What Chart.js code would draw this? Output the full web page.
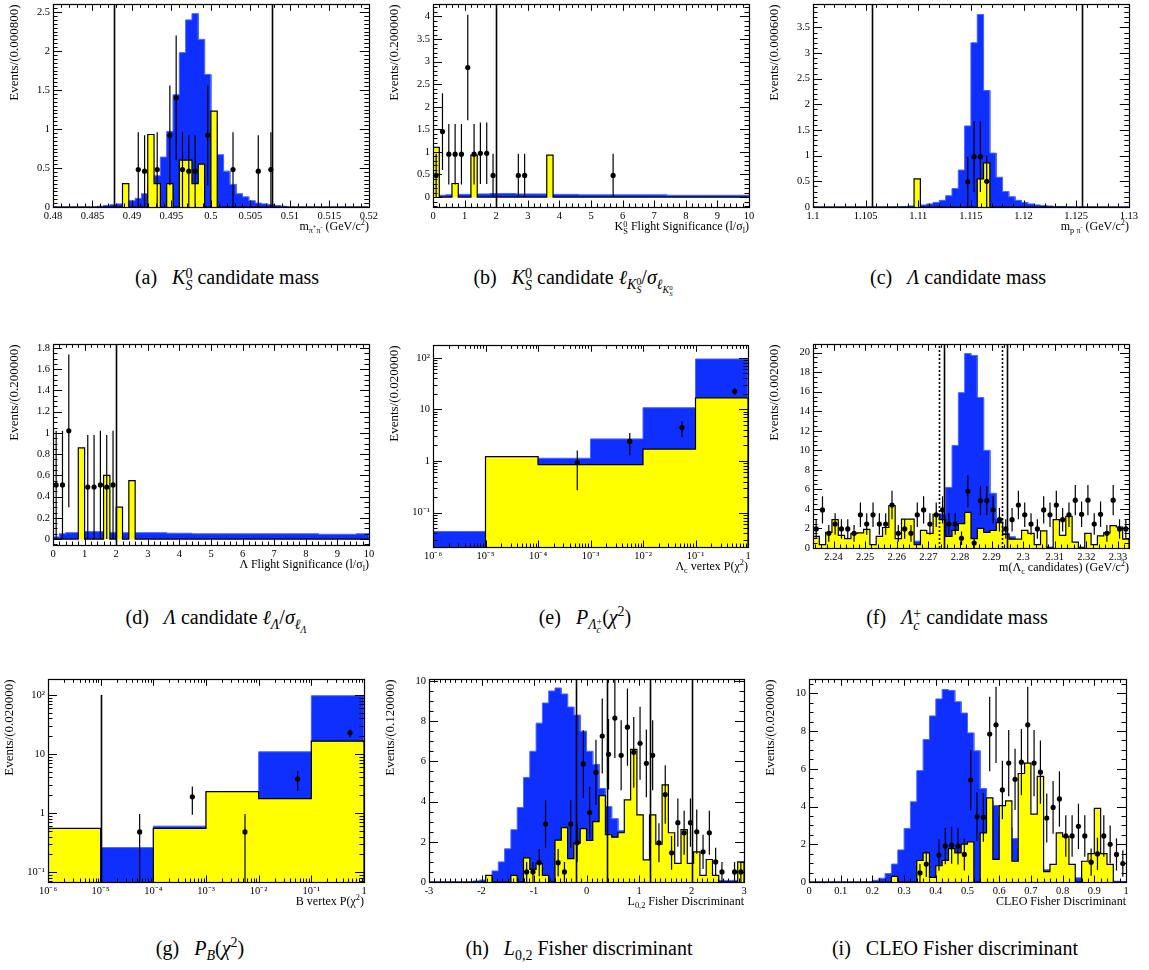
<!DOCTYPE html>
<html>
<head>
<meta charset="utf-8">
<script src="https://cdn.jsdelivr.net/npm/chart.js@4.4.1/dist/chart.umd.min.js"></script>
<style>
body { margin: 0; background: #fff; }
#fig { position: relative; width: 1149px; height: 970px; overflow: hidden; font-family: "Liberation Serif", "Times New Roman", serif; color: #000; }
canvas { position: absolute; }
.xt { position: absolute; font-size: 12px; line-height: 14px; white-space: nowrap; text-align: right; width: 320px; }
.cap { position: absolute; font-size: 20px; line-height: 24px; white-space: nowrap; transform: translateX(-50%); }
sub, sup { font-size: 0.7em; line-height: 0; }
.ss { display: inline-block; vertical-align: -0.45em; line-height: 0.85; font-size: 0.7em; text-align: left; }
.ss > span { display: block; }
</style>
</head>
<body>
<div id="fig"></div>
<script>
// ---------------- data ----------------

// (a) K0S candidate mass, 50 bins of 0.0008 from 0.48
const aBinLo = 0.48, aBinW = 0.0008;
const aBlue = [0,0,0,0,0,0,0, 0.01,0.02,0.03,0.04,0.05,0.08,0.11,0.17,0.27,0.4,
  0.64,0.97,1.44,1.98,2.4,2.48,2.15,1.7,1.1,0.67,
  0.46,0.29,0.17,0.13,0.08,0.05,0.04,0.03,0.02,0.01,
  0,0,0,0,0,0,0,0,0,0,0,0,0];
const aYellow = [0,0,0,0,0,0,0,0,0,0, 0,0.3,0,0,0,0.93,0.3,0,0.3,0,
  0.6,0.6,0.3,0.55,0,1.23,0,0,0,0, 0,0,0,0,0,0,0,0,0,0, 0,0,0,0,0,0,0,0,0,0];
const aPtBins = [13,14,16,18,19,20,21,22,24,28,32,34];
const aPtVals = [0.48,0.46,0.48,0.92,1.40,0.48,0.46,0.46,0.92,0.48,0.46,0.48];
const aPtErrs = [0.48,0.46,0.48,0.64,0.80,0.48,0.46,0.46,0.64,0.48,0.46,0.48];
const aCuts = [0.4877, 0.5077];
const aXTicks = [0.48,0.485,0.49,0.495,0.5,0.505,0.51,0.515,0.52];
const aYTicks = [0,0.5,1,1.5,2,2.5];

// (b) K0S flight significance, 50 bins of 0.2 from 0
const bBinLo = 0, bBinW = 0.2;
const bBlue = [0.03,0.04,0.05,0.05,0.06,0.06,0.07,0.07,0.07,0.08,
  0.08,0.08,0.08,0.07,0.07,0.07,0.07,0.07,0.06,0.06,
  0.06,0.06,0.06,0.05,0.05,0.05,0.05,0.05,0.05,0.05,
  0.05,0.05,0.05,0.05,0.05,0.05,0.05,0.04,0.04,0.04,
  0.04,0.04,0.04,0.04,0.04,0.04,0.04,0.04,0.04,0.04];
const bYellow = [1.1,0,0,0.3,0,0,0.93,0,0,0, 0,0,0,0,0,0,0,0,0.93,0,
  0,0,0,0,0,0,0,0,0,0, 0,0,0,0,0,0,0,0,0,0, 0,0,0,0,0,0,0,0,0,0];
const bPtBins = [0,1,2,3,4,5,6,7,8,9,13,14,28];
const bPtVals = [0.48,1.45,0.95,0.95,0.95,2.87,0.95,0.97,0.97,0.48,0.48,0.48,0.48];
const bPtErrs = [0.48,0.85,0.67,0.67,0.67,1.17,0.67,0.68,0.68,0.48,0.48,0.48,0.48];
const bCuts = [2];
const bXTicks = [0,1,2,3,4,5,6,7,8,9,10];
const bYTicks = [0,0.5,1,1.5,2,2.5,3,3.5,4];

// (c) Lambda candidate mass, 50 bins of 0.0006 from 1.1
const cBinLo = 1.1, cBinW = 0.0006;
const cBlue = [0,0,0,0,0,0,0,0,0,0, 0,0,0,0.005,0.01,0.02,0.03,0.04,0.06,0.09,
  0.13,0.22,0.36,0.72,1.58,3.2,3.75,2.27,1.05,0.58,
  0.3,0.2,0.13,0.09,0.06,0.04,0.03,0.02,0.01,0.01,
  0,0,0,0,0,0,0,0,0,0];
const cYellow = [0,0,0,0,0,0,0,0,0,0, 0,0,0,0,0,0,0.55,0,0,0,
  0,0,0,0,0,0,0.55,0.86,0,0, 0,0,0,0,0,0,0,0,0,0, 0,0,0,0,0,0,0,0,0,0];
const cPtBins = [24,25,26,27];
const cPtVals = [0.49,0.98,0.98,0.5];
const cPtErrs = [0.49,0.69,0.69,0.5];
const cCuts = [1.1056, 1.1256];
const cXTicks = [1.1,1.105,1.11,1.115,1.12,1.125,1.13];
const cYTicks = [0,0.5,1,1.5,2,2.5,3,3.5];

// (d) Lambda flight significance, 50 bins of 0.2 from 0
const dBinLo = 0, dBinW = 0.2;
const dBlue = [0.02,0.05,0.06,0.06,0.06,0.07,0.07,0.07,0.07,0.06,
  0.06,0.06,0.06,0.06,0.06,0.06,0.06,0.06,0.055,0.055,
  0.055,0.055,0.05,0.05,0.05,0.05,0.05,0.05,0.05,0.05,
  0.05,0.05,0.05,0.05,0.05,0.05,0.05,0.05,0.05,0.05,
  0.05,0.05,0.045,0.045,0.045,0.045,0.045,0.045,0.05,0.05];
const dYellow = [0,0,0,0,0.86,0,0,0,0.6,0, 0.3,0,0.55,0,0,0,0,0,0,0,
  0,0,0,0,0,0,0,0,0,0, 0,0,0,0,0,0,0,0,0,0, 0,0,0,0,0,0,0,0,0,0];
const dPtBins = [0,1,2,5,6,7,8,9];
const dPtVals = [0.51,0.51,1.02,0.49,0.49,0.51,0.49,0.51];
const dPtErrs = [0.51,0.51,0.72,0.49,0.49,0.51,0.49,0.51];
const dCuts = [2];
const dXTicks = [0,1,2,3,4,5,6,7,8,9,10];
const dYTicks = [0,0.2,0.4,0.6,0.8,1,1.2,1.4,1.6,1.8];

// (e) Lambda_c vertex probability, one bin per decade
const eEdges = [1e-6,1e-5,1e-4,1e-3,1e-2,1e-1,1];
const eBlue = [0.043,1.22,1.13,2.68,10.8,95];
const eYellow = [0,1.22,0.85,0.85,1.7,16.8];
const ePtX = [5.6e-4,5.6e-3,0.0553,0.557];
const ePtVals = [0.93,2.39,4.44,22.5];
const ePtErrs = [0.66,1.1,1.55,3.3];
const eXTicks = [1e-6,1e-5,1e-4,1e-3,1e-2,1e-1,1];
const eYTicks = [0.1,1,10,100];

// (f) Lambda_c+ candidate mass, 50 bins of 0.002 from 2.2335
const fBinLo = 2.2335, fBinW = 0.002;
const fBlue = [0.1,0.1,0.1,0.1,0.1,0.1,0.15,0.15,0.15,0.2,
  0.2,0.2,0.25,0.3,0.35,0.45,0.7,0.9,1.2,1.8,
  3.5,6.2,10.5,15.9,19.9,19.7,15.4,10.0,5.6,3.0,
  1.5,1.15,0.5,0.4,0.3,0.25,0.2,0.1,0.1,0.1,
  0.1,0.1,0.1,0.05,0.05,0.05,0.05,0.05,0.05,0.05];
const fYellow = [1.2,0.35,1.6,2.9,1.3,0.95,1.5,1.55,1.9,0.35,
  1.2,2.1,4.35,0.95,2.95,2.95,0.35,1.8,1.5,3.45,
  2.9,1.2,1.8,2.5,3.65,0.95,2.0,1.6,1.8,2.6,
  1.4,0.9,0.9,1.8,1.5,0.35,1.75,0,2.9,1.3,
  3.25,0.6,0,1.5,0.35,1.25,1.55,2.3,2.15,0.9];
const fPtBins = [0,1,2,3,4,5,6,7,8,9,10,11,12,13,14,15,16,17,18,19,20,21,22,23,24,
  25,26,27,28,29,30,31,32,33,34,35,36,37,38,39,40,41,42,43,44,45,46,47,48,49];
const fPtVals = [1.95,3.9,1.5,2.45,1.95,1.95,1.5,3.4,2.45,3.4,
  2.45,2.45,4.4,1.5,1.95,1.5,3.4,3.9,2.45,3.4,
  3.9,2.45,2.45,1.0,5.8,0.5,4.85,4.85,3.9,2.9,
  1.95,2.9,4.4,3.4,2.45,1.95,3.9,3.4,4.4,2.9,
  3.4,4.9,3.45,4.9,2.45,3.45,1.5,4.9,1.95,1.95];
const fPtErrs = [1.0,1.4,0.85,1.1,1.0,1.0,0.85,1.25,1.1,1.25,
  1.1,1.1,1.45,0.85,1.0,0.85,1.25,1.4,1.1,1.25,
  1.4,1.1,1.1,0.7,1.65,0.5,1.5,1.5,1.4,1.2,
  1.0,1.2,1.45,1.25,1.1,1.0,1.4,1.25,1.45,1.2,
  1.25,1.55,1.3,1.55,1.1,1.3,0.85,1.55,1.0,1.0];
const fCuts = [2.275, 2.295];
const fDotCuts = [2.2733, 2.2934];
const fXTicks = [2.24,2.25,2.26,2.27,2.28,2.29,2.3,2.31,2.32,2.33];
const fYTicks = [0,2,4,6,8,10,12,14,16,18,20];

// (g) B vertex probability, one bin per decade
const gEdges = [1e-6,1e-5,1e-4,1e-3,1e-2,1e-1,1];
const gBlue = [0.5,0.26,0.6,2.3,10.9,97];
const gYellow = [0.55,0,0.55,2.3,1.76,16.5];
const gPtX = [5.5e-5,5.5e-4,5.5e-3,0.055,0.543];
const gPtVals = [0.48,1.88,0.48,3.76,22.8];
const gPtErrs = [0.48,0.94,0.48,1.4,3.4];
const gCuts = [1e-5];
const gCutTop = 100;
const gXTicks = [1e-6,1e-5,1e-4,1e-3,1e-2,1e-1,1];
const gYTicks = [0.1,1,10,100];

// (h) L0,2 Fisher discriminant, 50 bins of 0.12 from -3
const hBinLo = -3, hBinW = 0.12;
const hBlue = [0,0,0,0,0,0,0,0.05,0.1,0.3,
  0.55,1.0,1.65,2.6,3.7,5.2,6.5,7.9,8.9,9.5,
  9.65,9.35,8.7,8.3,7.5,6.5,5.85,4.65,3.75,3.15,
  2.55,2.0,1.6,1.2,0.9,0.7,0.5,0.35,0.25,0.18,
  0.12,0.1,0.07,0.12,0.08,0.08,0.08,0.08,0.08,0.02];
const hYellow = [0,0,0,0,0,0,0,0,0,0.33,
  0,0,0,0.33,0,1.2,0.63,0.93,0.33,0,
  2.08,2.7,1.16,1.93,2.65,2.07,3.0,4.3,2.35,2.23,
  2.45,4.08,6.6,3.34,1.1,3.34,1.88,4.83,2.45,0.93,
  2.6,0.93,1.5,0.33,1.12,0.33,0,0,0,1.0];
const hPtBins = [15,16,17,18,20,21,22,23,24,25,26,27,28,29,30,31,32,33,34,35,
  36,37,38,39,40,41,42,43,44,45,46,48,49];
const hPtVals = [0.5,0.5,0.96,2.88,0.96,0.5,2.88,1.95,5.87,3.45,
  5.45,7.26,6.35,8.15,6.3,7.7,6.45,6.9,5.9,6.3,
  1.95,4.35,1.45,2.95,2.45,2.95,2.5,1.5,2.45,1.0,0.5,0.5,0.5];
const hPtErrs = [0.5,0.5,0.68,1.18,0.68,0.5,1.18,0.97,1.68,1.29,
  1.62,1.87,1.75,1.98,1.74,1.92,1.76,1.82,1.68,1.74,
  0.97,1.45,0.84,1.2,1.09,1.2,1.1,0.85,1.09,0.7,0.5,0.5,0.5];
const hCuts = [-0.2, 0.39, 1.2, 2.0];
const hXTicks = [-3,-2,-1,0,1,2,3];
const hYTicks = [0,2,4,6,8,10];

// (i) CLEO Fisher discriminant, 50 bins of 0.02 from 0
const iBinLo = 0, iBinW = 0.02;
const iBlue = [0,0,0,0,0,0,0,0,0,0,
  0.09,0.2,0.45,0.95,1.7,2.84,4.25,5.9,7.55,8.8,
  9.7,10.2,10.15,9.55,8.95,7.9,6.95,4.95,4.3,4.05,
  3.5,2.9,2.3,1.8,1.4,1.0,0.8,0.65,0.45,0.35,
  0.3,0.25,0.22,0.15,0.12,0.1,0.08,0.06,0.04,0.02];
const iYellow = [0,0,0,0,0,0,0,0,0,0,
  0,0,0,0.3,0,0,0,1.14,1.54,0.25,
  0.86,1.14,1.77,1.54,2.0,2.12,0,2.6,4.46,1.2,
  4.05,4.3,1.1,5.75,6.3,3.6,5.6,0.55,0.93,2.6,
  2.4,0.93,0,1.1,1.5,3.9,1.5,0.93,0,0];
const iPtBins = [17,18,20,21,22,23,24,25,26,27,28,29,30,31,32,33,34,35,36,37,
  38,39,40,41,42,43,44,45,46,47,48,49];
const iPtVals = [0.48,0.95,1.43,1.91,1.95,1.9,1.46,5.4,3.46,3.43,
  7.84,8.33,4.88,6.3,5.44,6.35,8.33,6.3,5.82,3.39,
  3.95,4.4,2.44,2.44,2.95,2.44,1.05,1.49,2.44,2.0,1.46,0.98];
const iPtErrs = [0.48,0.68,0.83,0.97,0.98,0.97,0.85,1.6,1.3,1.3,
  1.97,2.02,1.55,1.75,1.62,1.76,2.02,1.75,1.68,1.3,
  1.4,1.47,1.1,1.1,1.2,1.1,0.72,0.86,1.1,1.0,0.85,0.7];
const iXTicks = [0,0.1,0.2,0.3,0.4,0.5,0.6,0.7,0.8,0.9,1];
const iYTicks = [0,2,4,6,8,10];

// ---------------- helpers ----------------

Chart.defaults.font.family = "'Liberation Serif', 'Times New Roman', serif";
Chart.defaults.font.size = 10.5;
Chart.defaults.color = '#000';

function binEdges(lo, w, n) {
    const e = [];
    for (let i = 0; i <= n; i++) e.push(lo + i * w);
    return e;
}

// histogram outline: corner points of every bin
function histPoints(edges, vals, floor) {
    const f = v => (v > 0 ? v : floor);
    const pts = [{ x: edges[0], y: floor }];
    vals.forEach((v, i) => {
        pts.push({ x: edges[i], y: f(v) });
        pts.push({ x: edges[i + 1], y: f(v) });
    });
    pts.push({ x: edges[edges.length - 1], y: floor });
    return pts;
}

function binCentres(edges, bins) {
    return bins.map(b => (edges[b] + edges[b + 1]) / 2);
}

const SUP = { '-': '\u207B', '0': '\u2070', '1': '\u00B9', '2': '\u00B2', '3': '\u00B3',
    '4': '\u2074', '5': '\u2075', '6': '\u2076', '7': '\u2077', '8': '\u2078', '9': '\u2079' };

function fmtTick(v, log) {
    if (!log) return String(Math.round(v * 1e6) / 1e6);
    const e = Math.round(Math.log10(v));
    if (e === 0) return '1';
    if (e === 1) return '10';
    return '10' + String(e).split('').map(c => SUP[c]).join('');
}

// ROOT style frame with inward ticks on all four sides
const framePlugin = {
    id: 'frame',
    afterDraw(chart) {
        const o = chart.options.plugins.frame || {};
        const { ctx, chartArea: a } = chart;
        const xs = chart.scales.x, ys = chart.scales.y;
        ctx.save();
        ctx.strokeStyle = '#000';
        ctx.lineWidth = 1;
        const seg = (x1, y1, x2, y2) => {
            ctx.beginPath(); ctx.moveTo(x1, y1); ctx.lineTo(x2, y2); ctx.stroke();
        };
        const minorsOf = (scale, n) => {
            const major = scale.ticks.map(t => t.value);
            const out = [];
            if (scale.type === 'logarithmic') {
                for (let d = Math.floor(Math.log10(scale.min)); d <= Math.ceil(Math.log10(scale.max)); d++)
                    for (let m = 2; m <= 9; m++) out.push(m * Math.pow(10, d));
            } else {
                const st = major[1] - major[0];
                for (let k = -n; major[0] + k * st / n <= scale.max + 1e-9; k++) out.push(major[0] + k * st / n);
            }
            return out;
        };
        const xMark = (v, len) => {
            if (v < xs.min - 1e-9 || v > xs.max + 1e-9) return;
            const p = Math.round(xs.getPixelForValue(v)) + 0.5;
            seg(p, a.bottom, p, a.bottom - len);
            seg(p, a.top, p, a.top + len);
        };
        const yMark = (v, len) => {
            if (v < ys.min - 1e-9 || v > ys.max + 1e-9) return;
            const p = Math.round(ys.getPixelForValue(v)) + 0.5;
            seg(a.left, p, a.left + len, p);
            seg(a.right, p, a.right - len, p);
        };
        minorsOf(xs, o.xMinor || 5).forEach(v => xMark(v, 3.5));
        xs.ticks.forEach(t => xMark(t.value, 6.5));
        minorsOf(ys, o.yMinor || 5).forEach(v => yMark(v, 4.5));
        ys.ticks.forEach(t => yMark(t.value, 9));
        ctx.lineWidth = 1.2;
        ctx.strokeRect(Math.round(a.left) + 0.5, Math.round(a.top) + 0.5,
            Math.round(a.right - a.left), Math.round(a.bottom - a.top));
        ctx.restore();
    }
};

// error bars of the data points and the vertical cut lines
const marksPlugin = {
    id: 'marks',
    afterDatasetsDraw(chart) {
        const o = chart.options.plugins.marks || {};
        const { ctx, chartArea: a } = chart;
        const xs = chart.scales.x, ys = chart.scales.y;
        const logY = ys.type === 'logarithmic';
        ctx.save();
        ctx.beginPath();
        ctx.rect(a.left, a.top, a.right - a.left, a.bottom - a.top);
        ctx.clip();
        ctx.strokeStyle = '#000';
        const seg = (x1, y1, x2, y2) => {
            ctx.beginPath(); ctx.moveTo(x1, y1); ctx.lineTo(x2, y2); ctx.stroke();
        };
        ctx.lineWidth = 1.2;
        chart.data.datasets.forEach((ds, i) => {
            if (!ds.errs) return;
            const meta = chart.getDatasetMeta(i);
            ds.data.forEach((p, j) => {
                const e = ds.errs[j];
                const lo = p.y - e, hi = p.y + e;
                let yl;
                if (lo > 1e-9) yl = ys.getPixelForValue(lo);
                else yl = logY ? a.bottom : ys.getPixelForValue(0);
                const x = meta.data[j].x;
                seg(x, yl, x, ys.getPixelForValue(hi));
            });
        });
        ctx.lineWidth = 1.6;
        (o.cuts || []).forEach(c => {
            const x = Math.round(xs.getPixelForValue(c.x)) + 0.5;
            ctx.setLineDash(c.dotted ? [2, 2] : []);
            seg(x, a.bottom, x, c.top != null ? ys.getPixelForValue(c.top) : a.top);
        });
        ctx.restore();
    }
};

const fig = document.getElementById('fig');

function drawPanel(p) {
    const padL = 48, padT = 8, padR = 12, padB = 22;
    const box = p.box;
    const W = box.r - box.l + padL + padR, H = box.b - box.t + padT + padB;
    const cv = document.createElement('canvas');
    cv.width = W; cv.height = H;
    cv.style.left = (box.l - padL) + 'px';
    cv.style.top = (box.t - padT) + 'px';
    cv.style.width = W + 'px';
    cv.style.height = H + 'px';
    fig.appendChild(cv);

    const logX = p.xType === 'logarithmic', logY = p.yType === 'logarithmic';
    const floor = logY ? 1e-3 : 0;
    const ptX = p.ptX || binCentres(p.edges, p.ptBins);

    const cuts = [];
    (p.cuts || []).forEach(x => cuts.push({ x, top: p.cutTop }));
    (p.dotCuts || []).forEach(x => cuts.push({ x, dotted: true }));

    new Chart(cv, {
        type: 'line',
        data: {
            datasets: [
                {
                    data: ptX.map((x, j) => ({ x, y: p.ptVals[j] })),
                    errs: p.ptErrs,
                    showLine: false,
                    pointRadius: 2.6,
                    pointBackgroundColor: '#000',
                    pointBorderColor: '#000',
                    pointBorderWidth: 0,
                    order: 0
                },
                {
                    data: histPoints(p.edges, p.yellow, floor),
                    borderColor: '#000',
                    borderWidth: 1.2,
                    backgroundColor: '#ffff00',
                    fill: logY ? 'start' : 'origin',
                    pointRadius: 0,
                    tension: 0,
                    order: 1
                },
                {
                    data: histPoints(p.edges, p.blue, floor),
                    borderColor: '#4a66ff',
                    borderWidth: 1,
                    backgroundColor: '#0f2fff',
                    fill: logY ? 'start' : 'origin',
                    pointRadius: 0,
                    tension: 0,
                    order: 2
                }
            ]
        },
        options: {
            responsive: false,
            animation: false,
            events: [],
            layout: { padding: { left: 0, top: padT, right: padR, bottom: 0 } },
            plugins: {
                legend: { display: false },
                tooltip: { enabled: false },
                frame: { xMinor: p.xMinor, yMinor: p.yMinor },
                marks: { cuts }
            },
            scales: {
                x: {
                    type: logX ? 'logarithmic' : 'linear',
                    min: p.xMin, max: p.xMax,
                    grid: { display: false, drawTicks: false },
                    border: { display: false },
                    ticks: { padding: 3, maxRotation: 0, autoSkip: false,
                        callback: v => fmtTick(v, logX) },
                    afterBuildTicks: s => { s.ticks = p.xTicks.map(v => ({ value: v })); },
                    afterFit: s => { s.height = padB; }
                },
                y: {
                    type: logY ? 'logarithmic' : 'linear',
                    min: p.yMin, max: p.yMax,
                    grid: { display: false, drawTicks: false },
                    border: { display: false },
                    ticks: { padding: 3, autoSkip: false,
                        callback: v => fmtTick(v, logY) },
                    afterBuildTicks: s => { s.ticks = p.yTicks.map(v => ({ value: v })); },
                    afterFit: s => { s.width = padL; },
                    title: { display: true, text: p.yTitle, align: 'end',
                        font: { size: 13 }, padding: { top: 2, bottom: 0 } }
                }
            }
        },
        plugins: [framePlugin, marksPlugin]
    });

    const xt = document.createElement('div');
    xt.className = 'xt';
    xt.style.left = (box.r - 320) + 'px';
    xt.style.top = (box.b + 12) + 'px';
    xt.innerHTML = p.xTitle;
    fig.appendChild(xt);

    const cap = document.createElement('div');
    cap.className = 'cap';
    cap.style.left = p.cap[0] + 'px';
    cap.style.top = (p.cap[1] - 12) + 'px';
    cap.innerHTML = p.capText;
    fig.appendChild(cap);
}

const KS = '<i>K</i><span class="ss"><span>0</span><span><i>S</i></span></span>';
const KSup = 'K<span class="ss"><span>0</span><span>S</span></span>';
const LCp = '<i>&Lambda;</i><span class="ss"><span>+</span><span><i>c</i></span></span>';

const panels = [
    { box: { l: 53, t: 3, r: 369, b: 207 }, edges: binEdges(aBinLo, aBinW, aBlue.length),
      blue: aBlue, yellow: aYellow, ptBins: aPtBins, ptVals: aPtVals, ptErrs: aPtErrs, cuts: aCuts,
      xMin: 0.48, xMax: 0.52, yMin: 0, yMax: 2.6, xTicks: aXTicks, yTicks: aYTicks, xMinor: 5, yMinor: 10,
      yTitle: 'Events/(0.000800)',
      xTitle: 'm<sub>&pi;<sup>+</sup>&pi;<sup>-</sup></sub> (GeV/c<sup>2</sup>)',
      cap: [227, 277], capText: '(a)&ensp; ' + KS + ' candidate mass' },
    { box: { l: 433, t: 3, r: 749, b: 207 }, edges: binEdges(bBinLo, bBinW, bBlue.length),
      blue: bBlue, yellow: bYellow, ptBins: bPtBins, ptVals: bPtVals, ptErrs: bPtErrs, cuts: bCuts,
      xMin: 0, xMax: 10, yMin: -0.22, yMax: 4.27, xTicks: bXTicks, yTicks: bYTicks, xMinor: 5, yMinor: 5,
      yTitle: 'Events/(0.200000)',
      xTitle: KSup + ' Flight Significance (l/&sigma;<sub>l</sub>)',
      cap: [573, 277], capText: '(b)&ensp; ' + KS + ' candidate <i>&#8467;</i><sub>' + KS +
        '</sub>/<i>&sigma;</i><sub><i>&#8467;</i><sub>' + KS + '</sub></sub>' },
    { box: { l: 813, t: 3, r: 1129, b: 207 }, edges: binEdges(cBinLo, cBinW, cBlue.length),
      blue: cBlue, yellow: cYellow, ptBins: cPtBins, ptVals: cPtVals, ptErrs: cPtErrs, cuts: cCuts,
      xMin: 1.1, xMax: 1.13, yMin: 0, yMax: 3.95, xTicks: cXTicks, yTicks: cYTicks, xMinor: 5, yMinor: 5,
      yTitle: 'Events/(0.000600)',
      xTitle: 'm<sub>p &pi;<sup>-</sup></sub> (GeV/c<sup>2</sup>)',
      cap: [958, 277], capText: '(c)&ensp; <i>&Lambda;</i> candidate mass' },
    { box: { l: 53, t: 343, r: 369, b: 545 }, edges: binEdges(dBinLo, dBinW, dBlue.length),
      blue: dBlue, yellow: dYellow, ptBins: dPtBins, ptVals: dPtVals, ptErrs: dPtErrs, cuts: dCuts,
      xMin: 0, xMax: 10, yMin: -0.056, yMax: 1.835, xTicks: dXTicks, yTicks: dYTicks, xMinor: 5, yMinor: 4,
      yTitle: 'Events/(0.200000)',
      xTitle: '&Lambda; Flight Significance (l/&sigma;<sub>l</sub>)',
      cap: [216, 617], capText: '(d)&ensp; <i>&Lambda;</i> candidate <i>&#8467;</i><sub><i>&Lambda;</i></sub>/<i>&sigma;</i><sub><i>&#8467;</i><sub><i>&Lambda;</i></sub></sub>' },
    { box: { l: 433, t: 344, r: 748, b: 547 }, edges: eEdges,
      blue: eBlue, yellow: eYellow, ptX: ePtX, ptVals: ePtVals, ptErrs: ePtErrs,
      xType: 'logarithmic', yType: 'logarithmic',
      xMin: 1e-6, xMax: 1, yMin: 0.0215, yMax: 175, xTicks: eXTicks, yTicks: eYTicks,
      yTitle: 'Events/(0.020000)',
      xTitle: '&Lambda;<sub>c</sub> vertex P(&chi;<sup>2</sup>)',
      cap: [585, 617], capText: '(e)&ensp; <i>P</i><sub>' + LCp + '</sub>(<i>&chi;</i><sup>2</sup>)' },
    { box: { l: 813, t: 343, r: 1129, b: 548 }, edges: binEdges(fBinLo, fBinW, fBlue.length),
      blue: fBlue, yellow: fYellow, ptBins: fPtBins, ptVals: fPtVals, ptErrs: fPtErrs,
      cuts: fCuts, dotCuts: fDotCuts,
      xMin: 2.2335, xMax: 2.3335, yMin: 0, yMax: 20.85, xTicks: fXTicks, yTicks: fYTicks, xMinor: 5, yMinor: 4,
      yTitle: 'Events/(0.002000)',
      xTitle: 'm(&Lambda;<sub>c</sub> candidates) (GeV/c<sup>2</sup>)',
      cap: [957, 617], capText: '(f)&ensp; ' + LCp + ' candidate mass' },
    { box: { l: 48, t: 678, r: 364, b: 882 }, edges: gEdges,
      blue: gBlue, yellow: gYellow, ptX: gPtX, ptVals: gPtVals, ptErrs: gPtErrs,
      cuts: gCuts, cutTop: gCutTop,
      xType: 'logarithmic', yType: 'logarithmic',
      xMin: 1e-6, xMax: 1, yMin: 0.068, yMax: 184, xTicks: gXTicks, yTicks: gYTicks,
      yTitle: 'Events/(0.020000)',
      xTitle: 'B vertex P(&chi;<sup>2</sup>)',
      cap: [200, 948], capText: '(g)&ensp; <i>P</i><sub><i>B</i></sub>(<i>&chi;</i><sup>2</sup>)' },
    { box: { l: 429, t: 678, r: 744, b: 882 }, edges: binEdges(hBinLo, hBinW, hBlue.length),
      blue: hBlue, yellow: hYellow, ptBins: hPtBins, ptVals: hPtVals, ptErrs: hPtErrs, cuts: hCuts,
      xMin: -3, xMax: 3, yMin: 0, yMax: 10.08, xTicks: hXTicks, yTicks: hYTicks, xMinor: 10, yMinor: 4,
      yTitle: 'Events/(0.120000)',
      xTitle: 'L<sub>0,2</sub> Fisher Discriminant',
      cap: [579, 948], capText: '(h)&ensp; <i>L</i><sub>0,2</sub> Fisher discriminant' },
    { box: { l: 809, t: 678, r: 1126, b: 882 }, edges: binEdges(iBinLo, iBinW, iBlue.length),
      blue: iBlue, yellow: iYellow, ptBins: iPtBins, ptVals: iPtVals, ptErrs: iPtErrs,
      xMin: 0, xMax: 1, yMin: 0, yMax: 10.74, xTicks: iXTicks, yTicks: iYTicks, xMinor: 5, yMinor: 4,
      yTitle: 'Events/(0.020000)',
      xTitle: 'CLEO Fisher Discriminant',
      cap: [955, 948], capText: '(i)&ensp; CLEO Fisher discriminant' }
];

panels.forEach(drawPanel);
</script>
</body>
</html>
